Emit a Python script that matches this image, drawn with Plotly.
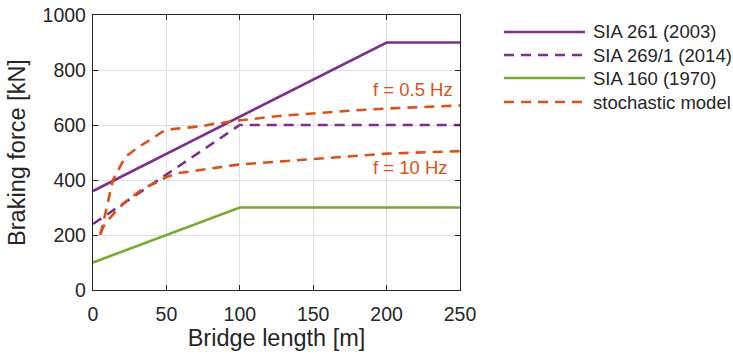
import plotly.graph_objects as go

# ---- data ----
sia261_x = [0, 200, 250]
sia261_y = [360, 900, 900]
sia269_x = [0, 100, 250]
sia269_y = [240, 600, 600]
sia160_x = [0, 100, 250]
sia160_y = [100, 300, 300]
stoch05_x = [5, 9, 13.6, 22, 31, 42, 47, 54, 61, 68, 75, 82, 88, 95, 102, 125, 150, 175, 200, 225, 250]
stoch05_y = [200, 291, 400, 484, 520, 556, 575, 585, 589, 593, 596, 604, 607, 615, 618, 632, 643, 652, 660, 666, 671]
stoch10_x = [5, 8, 11.6, 16.4, 22, 27, 33, 39, 44, 50, 58, 64, 72, 78, 85, 91, 99, 114, 150, 200, 250]
stoch10_y = [205, 240, 262, 291, 320, 340, 365, 382, 392, 411, 425, 429, 436, 440, 447, 450, 456, 462, 478, 496, 505]

legend_names = ["SIA 261 (2003)", "SIA 269/1 (2014)", "SIA 160 (1970)", "stochastic model"]
x_ticks = [0, 50, 100, 150, 200, 250]
y_ticks = [0, 200, 400, 600, 800, 1000]

PURPLE = "#7E2F8E"
GREEN = "#77AC30"
ORANGE = "#D95319"
DASH = "10px,7px"
LW = 2.6
FONT = "Liberation Sans, Arial, sans-serif"

fig = go.Figure()
fig.add_trace(go.Scatter(x=sia261_x, y=sia261_y, mode="lines",
                         line=dict(color=PURPLE, width=LW), showlegend=False))
fig.add_trace(go.Scatter(x=sia269_x, y=sia269_y, mode="lines",
                         line=dict(color=PURPLE, width=LW, dash=DASH), showlegend=False))
fig.add_trace(go.Scatter(x=sia160_x, y=sia160_y, mode="lines",
                         line=dict(color=GREEN, width=LW), showlegend=False))
fig.add_trace(go.Scatter(x=stoch05_x, y=stoch05_y, mode="lines",
                         line=dict(color=ORANGE, width=LW, dash=DASH), showlegend=False))
fig.add_trace(go.Scatter(x=stoch10_x, y=stoch10_y, mode="lines",
                         line=dict(color=ORANGE, width=LW, dash=DASH), showlegend=False))

# plot area geometry (px)
L, R, T, B = 93, 460, 15, 290
W, H = 733, 354

def px(xp):
    return (xp - L) / (R - L)

def py(yp):
    return (B - yp) / (B - T)

# custom legend (line samples + text)
leg_styles = [(PURPLE, "solid"), (PURPLE, DASH), (GREEN, "solid"), (ORANGE, DASH)]
leg_rows = [32, 55, 78, 102]
shapes = []
annotations = []
for name, (col, dsh), yr in zip(legend_names, leg_styles, leg_rows):
    shapes.append(dict(type="line", xref="paper", yref="paper",
                       x0=px(504), x1=px(585), y0=py(yr), y1=py(yr),
                       line=dict(color=col, width=LW, dash=dsh)))
    annotations.append(dict(text=name, xref="paper", yref="paper",
                            x=px(591), y=py(yr), xanchor="left", yanchor="middle",
                            showarrow=False, font=dict(size=18.5, color="#262626", family=FONT)))

annotations.append(dict(text="f = 0.5 Hz", x=217.8, y=730, xref="x", yref="y",
                        showarrow=False, font=dict(size=18.5, color=ORANGE, family=FONT)))
annotations.append(dict(text="f = 10 Hz", x=216.3, y=445, xref="x", yref="y",
                        showarrow=False, font=dict(size=18.5, color=ORANGE, family=FONT)))

axis_common = dict(showline=True, linecolor="#262626", linewidth=1.3, mirror="ticks",
                   ticks="inside", ticklen=5, tickwidth=1.2, tickcolor="#262626",
                   showgrid=True, gridcolor="#dfdfdf", gridwidth=1, zeroline=False,
                   automargin=False,
                   tickfont=dict(size=19.5, color="#262626", family=FONT))

fig.update_layout(
    width=W, height=H,
    margin=dict(l=L, r=W - R, t=T, b=H - B, pad=0, autoexpand=False),
    paper_bgcolor="white", plot_bgcolor="white",
    showlegend=False,
    shapes=shapes,
    annotations=annotations,
    xaxis=dict(range=[0, 250], tickvals=x_ticks, ticklabelstandoff=6,
               title=dict(text="Bridge length [m]", standoff=6,
                          font=dict(size=23.5, color="#262626", family=FONT)),
               **axis_common),
    yaxis=dict(range=[0, 1000], tickvals=y_ticks, ticklabelstandoff=2,
               title=dict(text="Braking force [kN]", standoff=10,
                          font=dict(size=23.5, color="#262626", family=FONT)),
               **axis_common),
)

fig.write_html("out.html")
